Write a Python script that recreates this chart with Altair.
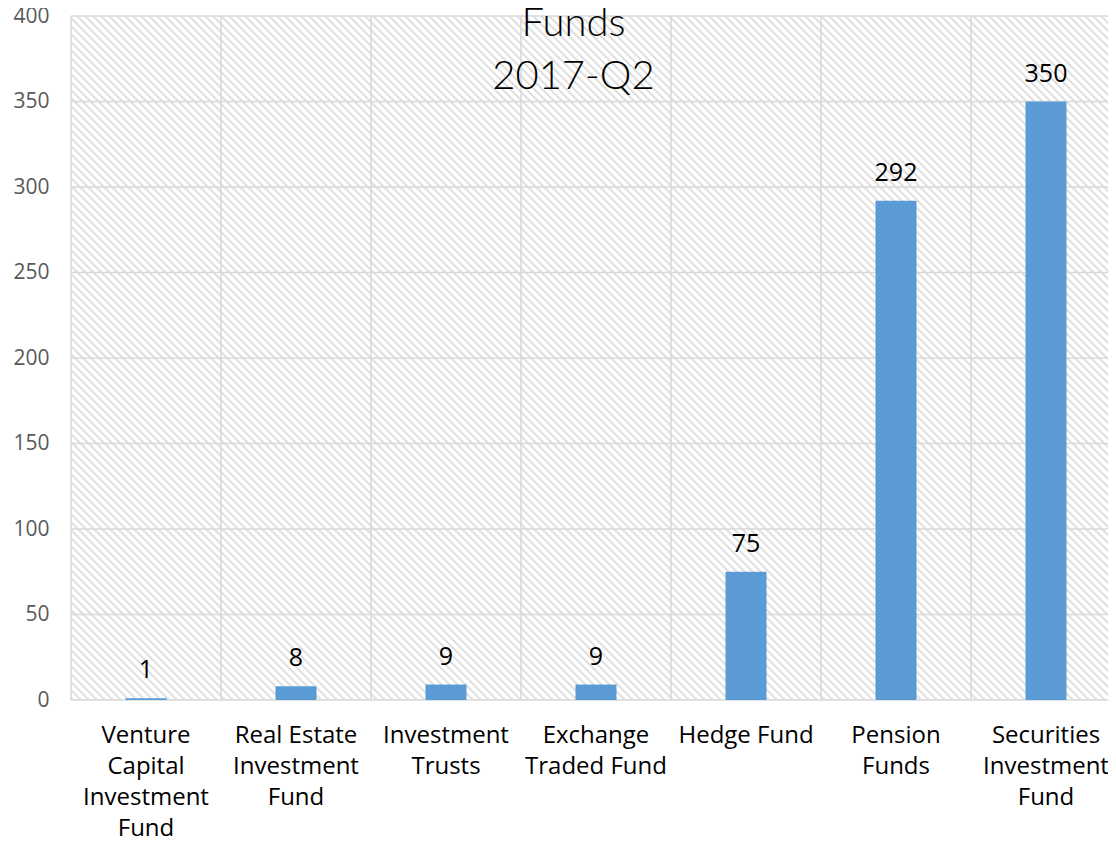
import json
import altair as alt
import pandas as pd

# ---- data ----
categories = [
    "Venture Capital Investment Fund",
    "Real Estate Investment Fund",
    "Investment Trusts",
    "Exchange Traded Fund",
    "Hedge Fund",
    "Pension Funds",
    "Securities Investment Fund",
]
label_lines = [
    ["Venture", "Capital", "Investment", "Fund"],
    ["Real Estate", "Investment", "Fund"],
    ["Investment", "Trusts"],
    ["Exchange", "Traded Fund"],
    ["Hedge Fund"],
    ["Pension", "Funds"],
    ["Securities", "Investment", "Fund"],
]
values = [1, 8, 9, 9, 75, 292, 350]
y_ticks = [0, 50, 100, 150, 200, 250, 300, 350, 400]
title_lines = ["Funds", "2017-Q2"]

W, H = 1037, 684          # visible plot area (the page crops the right edge)
FULL_W = 1050             # full category range, partly beyond the page edge
GRID = "#d9d9d9"
BAR = "#5b9bd5"
FONT = "Open Sans"

df = pd.DataFrame({"cat": categories, "value": values})
grid_df = pd.DataFrame({"v": y_ticks})
cat_df = pd.DataFrame({"cat": categories})

# ---- diagonal hatch background as a striped linear gradient ----
L = FULL_W + H
s = L / (FULL_W * FULL_W + H * H)
period, g = 8.0, 3.0
stops = []
k = 0
while True:
    a = k * period
    if a + g + 1 > L:
        break
    for off, col in ((a, "#ffffff"), (a + 1, "#e1e1e1"), (a + g, "#e1e1e1"), (a + g + 1, "#ffffff")):
        stops.append(alt.GradientStop(offset=min(off / L, 1.0), color=col))
    k += 1
hatch = alt.LinearGradient(gradient="linear", stops=stops,
                           x1=0, y1=1, x2=s * FULL_W, y2=1 - s * H)

xsc = alt.Scale(domain=categories, range=[0, FULL_W], paddingInner=0, paddingOuter=0)
ysc = alt.Scale(domain=[0, 400], nice=False)

label_map = {c: l for c, l in zip(categories, label_lines)}
x_axis = alt.Axis(title=None, labelExpr=f"{json.dumps(label_map)}[datum.label]",
                  labelAngle=0, labelFontSize=24, labelFont=FONT, labelColor="#000000",
                  labelLineHeight=31, labelPadding=23, ticks=False, grid=False,
                  domain=False, labelOverlap=False, labelLimit=300)
y_axis = alt.Axis(title=None, values=y_ticks, labelFontSize=21, labelFont=FONT,
                  labelColor="#595959", labelPadding=22, ticks=False, grid=False,
                  domain=False)

bg = alt.Chart(pd.DataFrame({"a": [0]})).mark_rect(fill=hatch).encode(
    x=alt.value(0), x2=alt.value(FULL_W), y=alt.value(0), y2=alt.value(H)
)
hgrid = alt.Chart(grid_df).mark_rule(color=GRID, strokeWidth=1.5).encode(
    y=alt.Y("v:Q", scale=ysc, axis=y_axis),
    x=alt.value(0), x2=alt.value(FULL_W),
)
vgrid = alt.Chart(cat_df).mark_rule(color=GRID, strokeWidth=1.5).encode(
    x=alt.X("cat:N", scale=xsc, sort=categories, bandPosition=0, axis=x_axis)
)
bars = alt.Chart(df).mark_bar(color=BAR, size=41).encode(
    x=alt.X("cat:N", scale=xsc, sort=categories, axis=x_axis),
    y=alt.Y("value:Q", scale=ysc, axis=y_axis),
)
texts = alt.Chart(df).mark_text(baseline="alphabetic", dy=-20, fontSize=25,
                                font=FONT, color="#000000").encode(
    x=alt.X("cat:N", scale=xsc, sort=categories, axis=x_axis),
    y=alt.Y("value:Q", scale=ysc, axis=y_axis),
    text=alt.Text("value:Q"),
)

chart = alt.layer(bg, hgrid, vgrid, bars, texts).properties(
    width=W, height=H,
    title=alt.TitleParams(text=title_lines, font="Lato", fontSize=40,
                          fontWeight=300, color="#000000", lineHeight=53,
                          anchor="middle", dx=-16, offset=-92),
    autosize=alt.AutoSizeParams(type="none"),
    padding={"left": 63, "top": 8, "right": 0, "bottom": 137},
).configure_view(stroke=None)

chart.save("out.html", embed_options={"renderer": "svg", "actions": False})
